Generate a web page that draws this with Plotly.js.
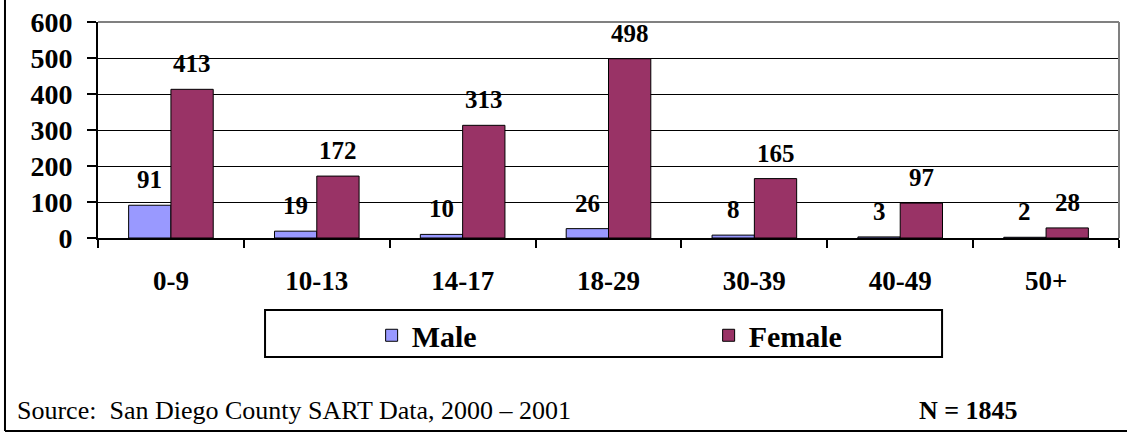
<!DOCTYPE html>
<html>
<head>
<meta charset="utf-8">
<script src="https://cdn.plot.ly/plotly-3.0.1.min.js"></script>
<style>
  body { margin: 0; background: #fff; }
  #chart { width: 1127px; height: 434px; }
</style>
</head>
<body>
<div id="chart"></div>
<script>
// age groups and counts
var ageGroups = ['0-9', '10-13', '14-17', '18-29', '30-39', '40-49', '50+'];
var maleCounts = [91, 19, 10, 26, 8, 3, 2];
var femaleCounts = [413, 172, 313, 498, 165, 97, 28];
var yTicks = [0, 100, 200, 300, 400, 500, 600];

var serif = 'Liberation Serif';
var plotW = 1127 - 98 - 8;
var gap = 0.42;
var halfBar = plotW / ageGroups.length * (1 - gap) / 4;

var male = {
    x: ageGroups,
    y: maleCounts,
    name: '<b>Male</b>',
    type: 'bar',
    marker: { color: '#9999ff', line: { color: '#000', width: 1 } }
};

var female = {
    x: ageGroups,
    y: femaleCounts,
    name: '<b>Female</b>',
    type: 'bar',
    marker: { color: '#993366', line: { color: '#000', width: 1 } }
};

// value labels, sitting a bit above each bar
function labels(vals, shift) {
    return vals.map((v, i) => ({
        x: ageGroups[i], y: v, xref: 'x', yref: 'y',
        text: '<b>' + v + '</b>',
        showarrow: false, xanchor: 'center', yanchor: 'bottom',
        xshift: shift, yshift: 10,
        font: { family: serif, size: 25, color: '#000' }
    }));
}

var layout = {
    width: 1127,
    height: 434,
    margin: { l: 98, r: 8, t: 22, b: 196 },
    paper_bgcolor: '#fff',
    plot_bgcolor: '#fff',
    font: { family: serif, color: '#000' },
    barmode: 'group',
    bargap: gap,
    bargroupgap: 0,
    showlegend: true,
    legend: {
        orientation: 'h',
        x: 0.268,
        xanchor: 'left',
        y: -0.33,
        yanchor: 'top',
        bgcolor: 'rgba(0,0,0,0)',
        borderwidth: 0,
        entrywidth: 292,
        itemwidth: 30,
        font: { family: serif, size: 30, color: '#000' }
    },
    xaxis: {
        type: 'category',
        showgrid: false,
        showline: true,
        linecolor: '#000',
        linewidth: 2,
        ticks: 'outside',
        tickson: 'boundaries',
        ticklen: 8,
        tickwidth: 2,
        tickcolor: '#000',
        ticklabelstandoff: 18,
        tickvals: ageGroups,
        ticktext: ageGroups.map(s => '<b>' + s + '</b>'),
        tickfont: { family: serif, size: 27, color: '#000' },
        automargin: false,
        fixedrange: true
    },
    yaxis: {
        range: [0, 600],
        tickvals: yTicks,
        ticktext: yTicks.map(v => '<b>' + v + '</b>'),
        showgrid: true,
        gridcolor: '#000',
        gridwidth: 1,
        zeroline: false,
        showline: true,
        linecolor: '#000',
        linewidth: 2,
        ticks: 'outside',
        ticklen: 9,
        tickwidth: 2,
        tickcolor: '#000',
        ticklabelstandoff: 9,
        tickfont: { family: serif, size: 28, color: '#000' },
        automargin: false,
        fixedrange: true
    },
    shapes: [
        // grey plot border top/right
        { type: 'line', xref: 'paper', yref: 'paper', x0: 0, x1: 1, y0: 1, y1: 1, line: { color: '#808080', width: 2 } },
        { type: 'line', xref: 'paper', yref: 'paper', x0: 1, x1: 1, y0: 0, y1: 1, line: { color: '#808080', width: 2 } },
        // legend box
        { type: 'rect', xref: 'paper', yref: 'paper', x0: 0.1636, x1: 0.8267, y0: -0.333, y1: -0.551, line: { color: '#000', width: 2 }, fillcolor: 'rgba(0,0,0,0)' },
        // outer frame left and bottom
        { type: 'line', xref: 'paper', yref: 'paper', x0: -0.0911, x1: -0.0911, y0: 1.2, y1: -0.893, line: { color: '#000', width: 2 } },
        { type: 'line', xref: 'paper', yref: 'paper', x0: -0.0911, x1: 1.1, y0: -0.893, y1: -0.893, line: { color: '#000', width: 2 } }
    ],
    annotations: labels(maleCounts, -halfBar).concat(labels(femaleCounts, halfBar), [
        {
            text: 'Source:  San Diego County SART Data, 2000 \u2013 2001',
            xref: 'paper', yref: 'paper', x: -0.0813, y: -0.80,
            xanchor: 'left', yanchor: 'middle', showarrow: false,
            font: { family: serif, size: 26, color: '#000' }
        },
        {
            text: '<b>N = 1845</b>',
            xref: 'paper', yref: 'paper', x: 0.802, y: -0.80,
            xanchor: 'left', yanchor: 'middle', showarrow: false,
            font: { family: serif, size: 26, color: '#000' }
        }
    ])
};

Plotly.newPlot('chart', [male, female], layout, { displayModeBar: false, staticPlot: true });
</script>
</body>
</html>
